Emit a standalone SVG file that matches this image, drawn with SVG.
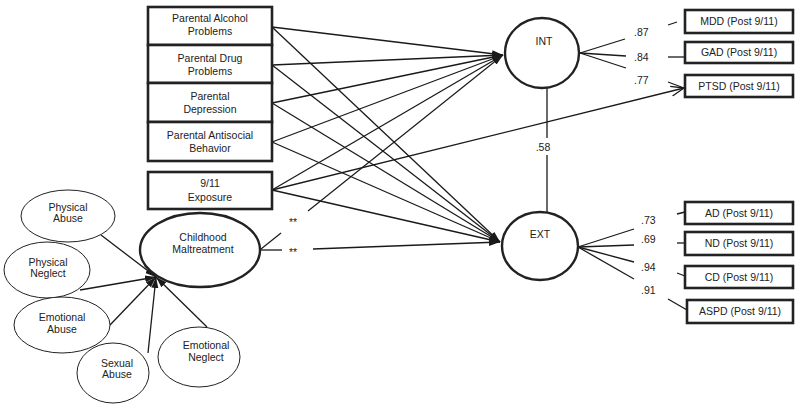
<svg xmlns="http://www.w3.org/2000/svg" width="800" height="408" viewBox="0 0 800 408">
<defs>
<marker id="ah" markerUnits="userSpaceOnUse" markerWidth="12" markerHeight="10" refX="11" refY="5" orient="auto">
<path d="M0,1.5 L11,5 L0,8.5 Z" fill="#1a1a1a"/>
</marker>
<marker id="oa" markerUnits="userSpaceOnUse" markerWidth="14" markerHeight="12" refX="13" refY="6" orient="auto">
<path d="M0,1 L13,6 L0,11" fill="none" stroke="#1a1a1a" stroke-width="1.3"/>
</marker>
<style>
text{font-family:"Liberation Sans",Arial,sans-serif;font-size:10.5px;fill:#222;text-anchor:middle}
.box{fill:#fff;stroke:#222;stroke-width:2.6}
.lat{fill:#fff;stroke:#222;stroke-width:2.4}
.ind{fill:#fff;stroke:#222;stroke-width:1}
.ln{stroke:#1a1a1a;stroke-width:1.3;fill:none}
.ar{stroke:#1a1a1a;stroke-width:1.3;fill:none;marker-end:url(#ah)}
.num{text-anchor:start}
</style>
</defs>
<rect width="800" height="408" fill="#fff"/>

<g id="connectors">
<!-- boxes to INT -->
<line class="ar" x1="272" y1="27" x2="503" y2="55"/>
<line class="ar" x1="272" y1="65" x2="503" y2="55"/>
<line class="ar" x1="272" y1="103" x2="503" y2="55"/>
<line class="ar" x1="272" y1="142" x2="503" y2="55"/>
<line class="ar" x1="272" y1="190" x2="503" y2="55"/>
<!-- boxes to EXT -->
<line class="ar" x1="272" y1="27" x2="500" y2="242"/>
<line class="ar" x1="272" y1="65" x2="500" y2="242"/>
<line class="ar" x1="272" y1="103" x2="500" y2="242"/>
<line class="ar" x1="272" y1="142" x2="500" y2="242"/>
<line class="ar" x1="272" y1="190" x2="500" y2="242"/>
<!-- 9/11 to PTSD -->
<line class="ln" x1="272" y1="190" x2="684" y2="88" marker-end="url(#oa)"/>
<!-- Childhood Maltreatment to INT / EXT -->
<line class="ln" x1="261" y1="249" x2="281" y2="233"/>
<line class="ar" x1="308" y1="211" x2="503" y2="55"/>
<line class="ln" x1="261" y1="250" x2="282" y2="250"/>
<line class="ar" x1="313" y1="249" x2="500" y2="242"/>
<!-- indicators to Childhood Maltreatment -->
<line class="ar" x1="101" y1="235" x2="156" y2="277"/>
<line class="ar" x1="80" y1="290" x2="156" y2="277"/>
<line class="ar" x1="110" y1="325" x2="156" y2="277"/>
<line class="ar" x1="148" y1="353" x2="156" y2="277"/>
<line class="ar" x1="207" y1="327" x2="156" y2="277"/>
<!-- INT - EXT correlation -->
<line class="ln" x1="547" y1="88" x2="547" y2="138"/>
<line class="ln" x1="547" y1="155" x2="547" y2="212"/>
<!-- INT loadings -->
<line class="ln" x1="580" y1="53" x2="625" y2="39"/>
<line class="ln" x1="580" y1="53" x2="626" y2="56"/>
<line class="ln" x1="580" y1="53" x2="626" y2="68"/>
<line class="ln" x1="668" y1="25" x2="677" y2="22"/>
<line class="ln" x1="668" y1="57" x2="685" y2="57"/>
<line class="ln" x1="668" y1="82" x2="684" y2="88"/>
<!-- EXT loadings -->
<line class="ln" x1="578" y1="247" x2="634" y2="229"/>
<line class="ln" x1="578" y1="247" x2="634" y2="245"/>
<line class="ln" x1="578" y1="247" x2="634" y2="262"/>
<line class="ln" x1="578" y1="247" x2="634" y2="279"/>
<line class="ln" x1="677" y1="214" x2="685" y2="212"/>
<line class="ln" x1="677" y1="243" x2="685" y2="243"/>
<line class="ln" x1="677" y1="273" x2="685" y2="276"/>
<line class="ln" x1="668" y1="299" x2="687" y2="310"/>
</g>

<g id="labels">
<text x="293" y="226">**</text>
<text x="293" y="256">**</text>
<text x="543" y="151">.58</text>
<text class="num" x="634" y="36">.87</text>
<text class="num" x="634" y="61">.84</text>
<text class="num" x="634" y="84">.77</text>
<text class="num" x="641" y="224">.73</text>
<text class="num" x="641" y="243">.69</text>
<text class="num" x="641" y="271">.94</text>
<text class="num" x="641" y="294">.91</text>
</g>

<g id="n-alcohol"><rect class="box" x="148" y="7" width="124" height="38"/><text x="210" y="22">Parental Alcohol</text><text x="210" y="35">Problems</text></g>
<g id="n-drug"><rect class="box" x="148" y="45" width="124" height="38"/><text x="210" y="62">Parental Drug</text><text x="210" y="75">Problems</text></g>
<g id="n-depression"><rect class="box" x="148" y="83" width="124" height="39"/><text x="210" y="100">Parental</text><text x="210" y="113">Depression</text></g>
<g id="n-antisocial"><rect class="box" x="148" y="122" width="124" height="39"/><text x="210" y="139">Parental Antisocial</text><text x="210" y="152">Behavior</text></g>
<g id="n-exposure"><rect class="box" x="148" y="172" width="124" height="37"/><text x="210" y="187">9/11</text><text x="210" y="201">Exposure</text></g>

<g id="n-cm"><ellipse class="lat" cx="200" cy="250" rx="60" ry="37"/><text x="203" y="241">Childhood</text><text x="203" y="253">Maltreatment</text></g>
<g id="n-pa"><ellipse class="ind" cx="68" cy="216" rx="47" ry="26"/><text x="68" y="211">Physical</text><text x="68" y="222">Abuse</text></g>
<g id="n-pn"><ellipse class="ind" cx="47" cy="270" rx="43" ry="28"/><text x="48" y="266">Physical</text><text x="48" y="277">Neglect</text></g>
<g id="n-ea"><ellipse class="ind" cx="62" cy="325" rx="48" ry="28"/><text x="62" y="321">Emotional</text><text x="62" y="333">Abuse</text></g>
<g id="n-sa"><ellipse class="ind" cx="113" cy="373" rx="36" ry="30"/><text x="117" y="367">Sexual</text><text x="117" y="378">Abuse</text></g>
<g id="n-en"><ellipse class="ind" cx="199" cy="357" rx="41" ry="30"/><text x="206" y="349">Emotional</text><text x="206" y="361">Neglect</text></g>

<g id="n-int"><ellipse class="lat" cx="542" cy="53" rx="37" ry="35"/><text x="544" y="45">INT</text></g>
<g id="n-ext"><ellipse class="lat" cx="540" cy="246" rx="38" ry="34"/><text x="540" y="238">EXT</text></g>

<g id="n-mdd"><rect class="box" x="685" y="10" width="108" height="23"/><text x="739" y="25">MDD (Post 9/11)</text></g>
<g id="n-gad"><rect class="box" x="685" y="42" width="108" height="21"/><text x="739" y="56">GAD (Post 9/11)</text></g>
<g id="n-ptsd"><rect class="box" x="685" y="75" width="108" height="22"/><text x="739" y="90">PTSD (Post 9/11)</text></g>
<g id="n-ad"><rect class="box" x="685" y="202" width="108" height="22"/><text x="739" y="217">AD  (Post 9/11)</text></g>
<g id="n-nd"><rect class="box" x="685" y="232" width="108" height="23"/><text x="739" y="247">ND (Post 9/11)</text></g>
<g id="n-cd"><rect class="box" x="685" y="266" width="108" height="22"/><text x="739" y="281">CD (Post 9/11)</text></g>
<g id="n-aspd"><rect class="box" x="687" y="300" width="106" height="23"/><text x="740" y="315">ASPD (Post 9/11)</text></g>
</svg>
